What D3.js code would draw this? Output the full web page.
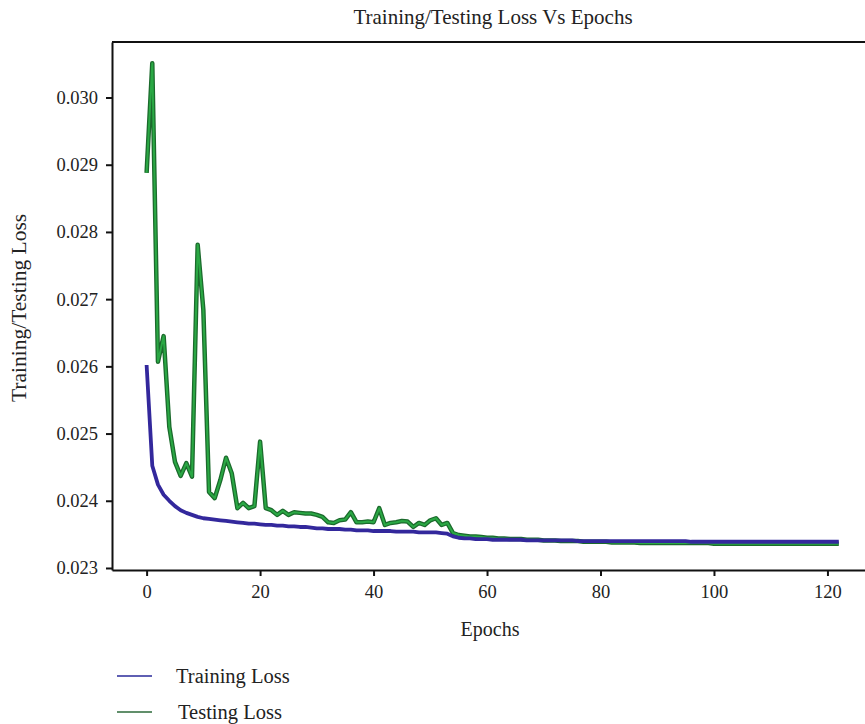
<!DOCTYPE html>
<html>
<head>
<meta charset="utf-8">
<script src="https://cdn.jsdelivr.net/npm/d3@7"></script>
<style>
  body { margin: 0; background: #fff; }
  text { font-family: "Liberation Serif", "DejaVu Serif", serif; fill: #222; }
</style>
</head>
<body>
<svg id="chart"></svg>
<script>
// loss per epoch
const trainingLoss = [
  0.02602, 0.02452, 0.02424, 0.02409, 0.02400, 0.02392, 0.02386, 0.02382, 0.02379, 0.02376,
  0.02374, 0.02373, 0.02372, 0.02371, 0.02370, 0.02369, 0.02368, 0.02367, 0.02366, 0.02366,
  0.02365, 0.02364, 0.02364, 0.02363, 0.02363, 0.02362, 0.02362, 0.02361, 0.02361, 0.02360,
  0.02359, 0.02359, 0.02358, 0.02358, 0.02358, 0.02357, 0.02357, 0.02356, 0.02356, 0.02356,
  0.02355, 0.02355, 0.02355, 0.02355, 0.02354, 0.02354, 0.02354, 0.02354, 0.02353, 0.02353,
  0.02353, 0.02353, 0.02352, 0.02351, 0.02347, 0.02345, 0.02344, 0.02344, 0.02343, 0.02343,
  0.02343, 0.02342, 0.02342, 0.02342, 0.02342, 0.02342, 0.02342, 0.02341, 0.02341, 0.02341,
  0.02341, 0.02341, 0.02341, 0.02341, 0.02341, 0.02341, 0.02340, 0.02340, 0.02340, 0.02340,
  0.02340, 0.02340, 0.02340, 0.02340, 0.02340, 0.02340, 0.02340, 0.02340, 0.02340, 0.02340,
  0.02340, 0.02340, 0.02340, 0.02340, 0.02340, 0.02340, 0.02339, 0.02339, 0.02339, 0.02339,
  0.02339, 0.02339, 0.02339, 0.02339, 0.02339, 0.02339, 0.02339, 0.02339, 0.02339, 0.02339,
  0.02339, 0.02339, 0.02339, 0.02339, 0.02339, 0.02339, 0.02339, 0.02339, 0.02339, 0.02339,
  0.02339, 0.02339, 0.02339
]
const testingLoss = [
  0.02888, 0.03051, 0.02607, 0.02645, 0.02510, 0.02458, 0.02437, 0.02456, 0.02436, 0.02781,
  0.02684, 0.02413, 0.02404, 0.02431, 0.02464, 0.02441, 0.02389, 0.02397, 0.02389, 0.02392,
  0.02488, 0.02389, 0.02386, 0.02379, 0.02385, 0.02379, 0.02383, 0.02382, 0.02381, 0.02381,
  0.02379, 0.02376, 0.02368, 0.02367, 0.02371, 0.02372, 0.02383, 0.02368, 0.02368, 0.02369,
  0.02368, 0.02389, 0.02364, 0.02367, 0.02368, 0.02370, 0.02369, 0.02361, 0.02367, 0.02364,
  0.02371, 0.02374, 0.02364, 0.02367, 0.02352, 0.02349, 0.02348, 0.02347, 0.02347, 0.02346,
  0.02345, 0.02345, 0.02344, 0.02344, 0.02343, 0.02343, 0.02343, 0.02342, 0.02342, 0.02342,
  0.02341, 0.02341, 0.02341, 0.02340, 0.02340, 0.02340, 0.02340, 0.02339, 0.02339, 0.02339,
  0.02339, 0.02339, 0.02338, 0.02338, 0.02338, 0.02338, 0.02338, 0.02337, 0.02337, 0.02337,
  0.02337, 0.02337, 0.02337, 0.02337, 0.02337, 0.02337, 0.02337, 0.02337, 0.02337, 0.02337,
  0.02336, 0.02336, 0.02336, 0.02336, 0.02336, 0.02336, 0.02336, 0.02336, 0.02336, 0.02336,
  0.02336, 0.02336, 0.02336, 0.02336, 0.02336, 0.02336, 0.02336, 0.02336, 0.02336, 0.02336,
  0.02336, 0.02336, 0.02336
]
const xTicks = [0, 20, 40, 60, 80, 100, 120]
const yTicks = [0.023, 0.024, 0.025, 0.026, 0.027, 0.028, 0.029, 0.030]
const seriesNames = ['Training Loss', 'Testing Loss']

const W = 865, H = 724
const plotL = 112, plotR = 870, plotT = 42, plotB = 570

const svg = d3.select('#chart').attr('width', W).attr('height', H)

const x = d3.scaleLinear().domain([-6.1, 127.5]).range([plotL, plotR])
const y = d3.scaleLinear().domain([0.02297, 0.030826]).range([plotB, plotT])

// frame
svg.append('line').attr('x1', plotL).attr('x2', plotR).attr('y1', plotT).attr('y2', plotT)
    .attr('stroke', '#111').attr('stroke-width', 2)

const xAxis = svg.append('g')
    .attr('transform', `translate(0,${plotB})`)
    .call(d3.axisBottom(x).tickValues(xTicks).tickSize(6).tickPadding(9).tickSizeOuter(0))
const yAxis = svg.append('g')
    .attr('transform', `translate(${plotL},0)`)
    .call(d3.axisLeft(y).tickValues(yTicks).tickFormat(d3.format('.3f')).tickSize(6).tickPadding(8).tickSizeOuter(0))

for (const g of [xAxis, yAxis]) {
    g.select('.domain').attr('stroke', '#111').attr('stroke-width', 2)
    g.selectAll('.tick line').attr('stroke', '#111').attr('stroke-width', 2)
    g.selectAll('.tick text').attr('font-size', 18.5).attr('fill', '#222')
        .attr('font-family', '"Liberation Serif", serif')
}

const line = d3.line().x((d, i) => x(i)).y(d => y(d))

// testing: dark edge with lighter green core
svg.append('path').datum(testingLoss).attr('d', line)
    .attr('fill', 'none').attr('stroke', '#1b6a2c').attr('stroke-width', 4.5)
    .attr('stroke-linejoin', 'round')
svg.append('path').datum(testingLoss).attr('d', line)
    .attr('fill', 'none').attr('stroke', '#2aa844').attr('stroke-width', 2)
    .attr('stroke-linejoin', 'round')

svg.append('path').datum(trainingLoss).attr('d', line)
    .attr('fill', 'none').attr('stroke', '#33289c').attr('stroke-width', 3.8)
    .attr('stroke-linejoin', 'round')

// titles
svg.append('text').attr('x', 493).attr('y', 24).attr('text-anchor', 'middle')
    .attr('font-size', 21).text('Training/Testing Loss Vs Epochs')
svg.append('text').attr('x', 490).attr('y', 636).attr('text-anchor', 'middle')
    .attr('font-size', 20).text('Epochs')
svg.append('text').attr('transform', 'translate(26,308) rotate(-90)')
    .attr('text-anchor', 'middle').attr('font-size', 21.5).text('Training/Testing Loss')

// legend
const legendColors = ['#2a2a9a', '#2d6a3a']
const legend = svg.selectAll('.leg').data(seriesNames).join('g')
    .attr('transform', (d, i) => `translate(117,${676 + i * 36})`)
legend.append('line').attr('x1', 0).attr('x2', 35).attr('y1', 0).attr('y2', 0)
    .attr('stroke', (d, i) => legendColors[i]).attr('stroke-width', 1.5)
legend.append('text').attr('x', (d, i) => 59 + i * 2).attr('y', 7)
    .attr('font-size', 20.5).text(d => d)
</script>
</body>
</html>
